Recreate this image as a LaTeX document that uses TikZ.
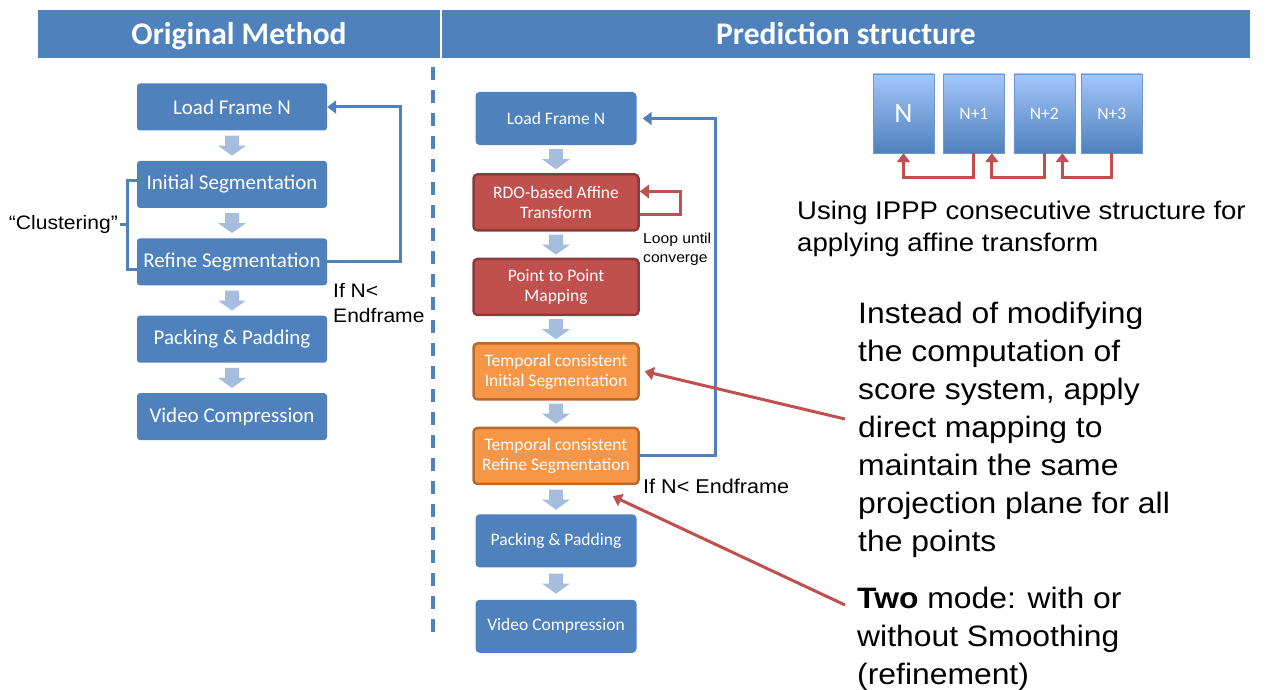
\documentclass[tikz,border=0pt]{standalone}
\usepackage{fontspec}
\setmainfont{Carlito}
\newfontfamily\arialfont[FakeStretch=1.08]{Liberation Sans}
\usetikzlibrary{arrows.meta,positioning,calc}
\definecolor{hdrblue}{HTML}{4F81BD}
\definecolor{boxblue}{HTML}{4F81BD}
\definecolor{flowarrow}{HTML}{A7BDDE}
\definecolor{rdored}{HTML}{C0504D}
\definecolor{rdoedge}{HTML}{8C3A38}
\definecolor{segorange}{HTML}{F79646}
\definecolor{segedge}{HTML}{B66A2E}
\definecolor{framelight}{HTML}{A3C6FA}
\definecolor{frameedge}{HTML}{6D98D4}
\tikzset{
  titlebar/.style={fill=hdrblue,text=white,font=\fontsize{31.5}{34}\selectfont\bfseries,minimum height=48pt,inner sep=0pt,text height=22pt,text depth=0pt},
  oldstep/.style={fill=boxblue,rounded corners=3pt,text=white,minimum width=190pt,minimum height=47pt,align=center,font=\fontsize{21}{24}\selectfont},
  newstep/.style={fill=boxblue,rounded corners=4pt,text=white,minimum width=161pt,minimum height=53pt,align=center,font=\fontsize{17.5}{20}\selectfont},
  rdostep/.style={newstep,fill=rdored,draw=rdoedge,line width=2.5pt,minimum width=165pt,minimum height=56pt},
  segstep/.style={newstep,fill=segorange,draw=segedge,line width=2.5pt,minimum width=165pt,minimum height=56pt},
  framebox/.style={top color=framelight,bottom color=boxblue,draw=frameedge,minimum width=61pt,minimum height=79pt,text=white,inner sep=0pt,font=\fontsize{17.5}{20}\selectfont},
  loopline/.style={draw=boxblue,line width=3pt,-{Triangle[length=9pt,width=13pt]}},
  refline/.style={draw=rdored,line width=3pt,-{Triangle[length=9pt,width=13pt]}},
  remark/.style={font=\arialfont\fontsize{19.5}{25}\selectfont,align=left,inner sep=0pt},
  pics/flowdown/.style={code={\fill[flowarrow] (-7,-10) -- (7,-10) -- (7,0) -- (14,0) -- (0,10) -- (-14,0) -- (-7,0) -- cycle;}}
}

\begin{document}
\begin{tikzpicture}[x=1pt,y=-1pt]
\useasboundingbox (0,0) rectangle (1268,690);

% title bars
\node[titlebar,minimum width=402pt] (hleft) at (239,34) {Original Method};
\node[titlebar,minimum width=808pt] (hright) at (846,34) {Prediction structure};
\draw[boxblue,line width=3.5pt,dash pattern=on 13pt off 10pt] (433,44) -- (433,640);

% original method
\node[oldstep] (lf) at (232,107) {Load Frame N};
\node[oldstep,below=30pt of lf] (is) {Initial Segmentation};
\node[oldstep,below=30pt of is] (rs) {Refine Segmentation};
\node[oldstep,below=30pt of rs] (pp) {Packing \& Padding};
\node[oldstep,below=30pt of pp] (vc) {Video Compression};

\draw[loopline] (rs.east) -- ++(73,0) |- (lf.east);
\node[remark,anchor=base west] (ifleft) at (333,322) {If N<\\Endframe};

\node[remark,anchor=east] (clus) at (118,224) {“Clustering”};
\draw[boxblue,line width=3pt] ([yshift=4pt]is.west) -- ++(-9,0) |- ([yshift=-8pt]rs.west);
\draw[boxblue,line width=3pt,shorten <=2pt] (clus.east) -- ++(11,0);

% prediction structure
\node[newstep] (lf2) at (556,118.5) {Load Frame N};
\node[rdostep,below=28pt of lf2] (rdo) {RDO-based Affine\\Transform};
\node[rdostep,below=26pt of rdo] (ptp) {Point to Point\\Mapping};
\node[segstep,below=26pt of ptp] (tis) {Temporal consistent\\Initial Segmentation};
\node[segstep,below=26pt of tis] (trs) {Temporal consistent\\Refine Segmentation};
\node[newstep,below=29pt of trs] (pp2) {Packing \& Padding};
\node[newstep,below=32pt of pp2] (vc2) {Video Compression};

\foreach \a/\b in {lf/is,is/rs,rs/pp,pp/vc,lf2/rdo,rdo/ptp,ptp/tis,tis/trs,trs/pp2,pp2/vc2}
  \pic at ($(\a.south)!0.5!(\b.north)$) {flowdown};

\draw[loopline,shorten >=6pt] (trs.east) -- ++(76,0) |- (lf2.east);
\node[remark,anchor=base west,font=\arialfont\fontsize{20}{25}\selectfont] (ifmid) at (643,493) {If N< Endframe};

\draw[refline] ([yshift=-12pt]rdo.east) -- ++(41,0) |- ([yshift=11pt]rdo.east);
\node[remark,anchor=base west,font=\arialfont\fontsize{14.5}{19}\selectfont] (loopnote) at (643,262) {Loop until\\converge};

% IPPP frames
\node[framebox,font=\fontsize{28}{30}\selectfont] (f0) at (903.5,113.5) {N};
\node[framebox,right=9pt of f0] (f1) {N+1};
\node[framebox,right=9pt of f1] (f2) {N+2};
\node[framebox,right=6pt of f2] (f3) {N+3};

\draw[refline] (f1.south) -- ++(0,24) -| (f0.south);
\draw[refline] (f2.south) -- ++(0,24) -| ([xshift=18pt]f1.south);
\draw[refline] (f3.south) -- ++(0,24) -| ([xshift=18pt]f2.south);

\node[remark,anchor=base west,font=\arialfont\fontsize{25.5}{32}\selectfont] (ippp) at (797,251) {Using IPPP consecutive structure for\\applying affine transform};

% notes
\node[remark,anchor=base west,font=\arialfont\fontsize{29.5}{38}\selectfont] (mapnote) at (858,551) {Instead of modifying\\the computation of\\score system, apply\\direct mapping to\\maintain the same\\projection plane for all\\the points};
\node[remark,anchor=base west,font=\arialfont\fontsize{29.5}{38}\selectfont] (modenote) at (857,684) {\textbf{Two} mode: with or\\without Smoothing\\(refinement)};

\coordinate (mapfrom) at (845,419);
\coordinate (modefrom) at (845,605);
\draw[refline] (mapfrom) -- ([xshift=5pt]tis.east);
\draw[refline] (modefrom) -- ([xshift=-27pt,yshift=-11pt]trs.south east);

\end{tikzpicture}
\end{document}
